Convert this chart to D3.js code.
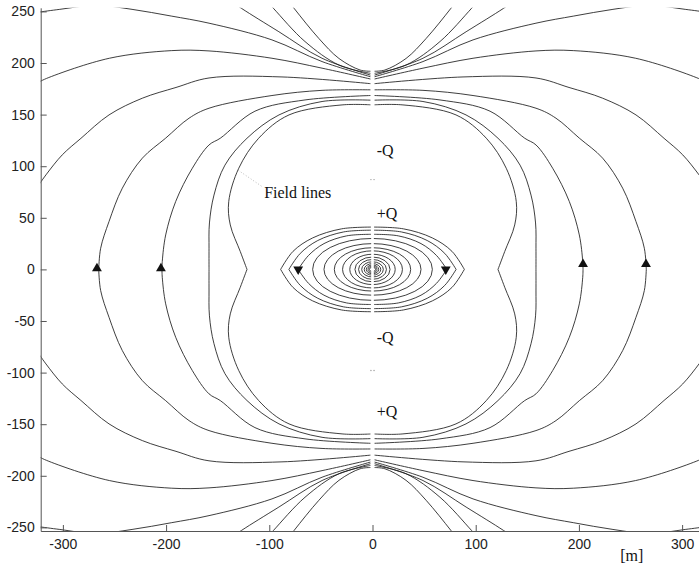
<!DOCTYPE html>
<html>
<head>
<meta charset="utf-8">
<script src="https://cdn.jsdelivr.net/npm/d3@7"></script>
<style>
  body { margin: 0; background: #fff; }
  .axis text { font-family: Arial, "Liberation Sans", sans-serif; font-size: 14px; fill: #222; }
  .axis path, .axis line { stroke: #555; stroke-width: 1; }
  .fl { fill: none; stroke: #1c1c1c; stroke-width: 0.85; }
  .lbl { font-family: "Liberation Serif", "Times New Roman", serif; font-size: 16px; fill: #111; }
</style>
</head>
<body>
<svg id="chart" width="699" height="568"></svg>
<script>
// tick values
const xTicks = [-300, -200, -100, 0, 100, 200, 300];
const yTicks = [-250, -200, -150, -100, -50, 0, 50, 100, 150, 200, 250];

// field lines, upper right quarter only (x >= 0, y >= 0); mirrored to the other three
const lineU1 = [[2,192],[12,193.2],[32.5,204.4],[52,223.8],[76,253],[86,266]];
const lineU2 = [[2,190],[32.5,198],[65.4,220.8],[96,253],[106,264]];
const lineU3 = [[2,188.3],[48.9,204.6],[90.7,230.3],[127,253],[140,262]];
const lineU4 = [[2,186.7],[48.9,201.4],[97.4,222.4],[158.4,238.6],[195,245.5],[233,252],[268,256],[303,252],[322,249.5]];
const lineA  = [[2,184.5],[48.9,195],[97.4,204.6],[158.4,211.7],[195,212],[255,204.6],[316,185],[326,180]];
const lineB  = [[2,180],[87.7,186.5],[158.4,185.5],[190.4,176.3],[223,165.9],[255.3,149.7],[282.5,127],[300.6,111],[316.4,91.6],[326,78]];
const lineC  = [[2,174],[48.9,173.5],[97.4,168.5],[158.4,156.2],[177.8,146.5],[200.4,127.2],[223,107.8],[242.4,78.7],[255.3,46.4],[263.4,20.5],[265.3,0]];
const lineE  = [[2,168.5],[65.4,164.2],[113.9,153.3],[147.5,127.1],[158.4,120.6],[174.6,98],[190.7,65.8],[200.4,33.4],[203.7,7.7],[204,0]];
const lineP2 = [[2,164],[48.9,162.7],[90.6,149.7],[121.6,127.1],[143,101],[153.6,72],[158,45],[158.4,20],[158.4,0]];
const lineP1 = [[2,159.5],[29.5,159.4],[80.9,149.7],[110.3,127.1],[129.6,98],[139.3,65.8],[137.8,43.1],[128.1,17.3],[121.6,0]];

// outer lens-shaped loops round the centre (quarter)
const ring1 = [[1.5,41],[30,39.3],[58,30.5],[77,17.5],[89,0]];
const ring2 = [[1.5,38],[28,36.3],[53,28],[70,15.5],[81,0]];
const ring3 = [[1.5,34],[25,32.5],[47,25],[62,13.5],[72,0]];
// inner elliptic loops: half axes
const ringA = [58, 47, 37, 29, 22, 17, 13.5, 10.5, 8, 6, 4.3, 3];
const ringB = [30, 25, 21, 18, 14.7, 12, 9.6, 7.4, 5.6, 4.2, 3, 2.1];

// direction arrows
const arrowX = [-267, -205, 204, 265, -72, 71];
const arrowY = [1, 1, 5, 5, 0, 0];
const arrowDir = ['up', 'up', 'up', 'up', 'down', 'down'];

// charge labels
const chargeText = ['-Q', '+Q', '-Q', '+Q'];
const chargeX = [4, 4, 4, 4];
const chargeY = [109.6, 48.6, -71.5, -143.2];
const dotY = [87, -98];

const svg = d3.select('#chart');
const x = d3.scaleLinear().domain([-321.5, 321.5]).range([40.7, 704.3]);
const y = d3.scaleLinear().domain([-253.5, 253.5]).range([531, 7.8]);

svg.append('clipPath').attr('id', 'plotclip')
  .append('rect')
  .attr('x', x(-321.5)).attr('y', y(253.5))
  .attr('width', x(321.5) - x(-321.5)).attr('height', y(-253.5) - y(253.5));

const plot = svg.append('g').attr('clip-path', 'url(#plotclip)');

const lineGen = d3.line()
  .x(d => x(d[0]))
  .y(d => y(d[1]))
  .curve(d3.curveCatmullRom.alpha(0.5));

const mirrors = [[1, 1], [-1, 1], [1, -1], [-1, -1]];
const quarterLines = [lineU1, lineU2, lineU3, lineU4, lineA, lineB, lineC, lineE, lineP2, lineP1, ring1, ring2, ring3];

quarterLines.forEach(pts => {
  mirrors.forEach(([sx, sy]) => {
    plot.append('path')
      .attr('class', 'fl')
      .attr('d', lineGen(pts.map(p => [sx * p[0], sy * p[1]])));
  });
});

plot.selectAll('ellipse.ring')
  .data(ringA)
  .join('ellipse')
  .attr('class', 'fl ring')
  .attr('cx', x(0)).attr('cy', y(0))
  .attr('rx', a => x(a) - x(0))
  .attr('ry', (a, i) => y(0) - y(ringB[i]));

// white slit at x = 0 through the loops
plot.append('rect')
  .attr('x', x(-1.3)).attr('y', y(42))
  .attr('width', x(1.3) - x(-1.3)).attr('height', y(-42) - y(42))
  .attr('fill', '#fff');

// arrows
plot.selectAll('path.arrow')
  .data(arrowX)
  .join('path')
  .attr('class', 'arrow')
  .attr('d', d3.symbol(d3.symbolTriangle, 42))
  .attr('transform', (d, i) => `translate(${x(d)},${y(arrowY[i])}) rotate(${arrowDir[i] == 'up' ? 0 : 180})`)
  .attr('fill', '#111');

// tiny charge markers
dotY.forEach(v => {
  [-1.5, 1.5].forEach(dx => {
    svg.append('circle').attr('cx', x(dx)).attr('cy', y(v)).attr('r', 0.7).attr('fill', '#999');
  });
});

// axes (plain hyphen for negatives)
const fmt = d => String(d);
svg.append('g')
  .attr('class', 'axis')
  .attr('transform', `translate(0,${y(-253.5)})`)
  .call(d3.axisBottom(x).tickValues(xTicks).tickFormat(fmt).tickSize(-6).tickSizeOuter(0).tickPadding(8));

svg.append('g')
  .attr('class', 'axis')
  .attr('transform', `translate(${x(-321.5)},0)`)
  .call(d3.axisLeft(y).tickValues(yTicks).tickFormat(fmt).tickSize(-6).tickSizeOuter(0).tickPadding(6));

// labels
svg.selectAll('text.charge')
  .data(chargeText)
  .join('text')
  .attr('class', 'lbl charge')
  .attr('x', (d, i) => x(chargeX[i]))
  .attr('y', (d, i) => y(chargeY[i]))
  .text(d => d);

svg.append('line')
  .attr('x1', x(-130)).attr('y1', y(96))
  .attr('x2', x(-106)).attr('y2', y(79.6))
  .attr('stroke', '#aaa').attr('stroke-width', 0.8).attr('stroke-dasharray', '1,2');

svg.append('text').attr('class', 'lbl')
  .attr('x', x(-105)).attr('y', y(69))
  .text('Field lines');

svg.append('text').attr('class', 'lbl')
  .attr('x', x(240)).attr('y', y(-253.5) + 30)
  .text('[m]');
</script>
</body>
</html>
